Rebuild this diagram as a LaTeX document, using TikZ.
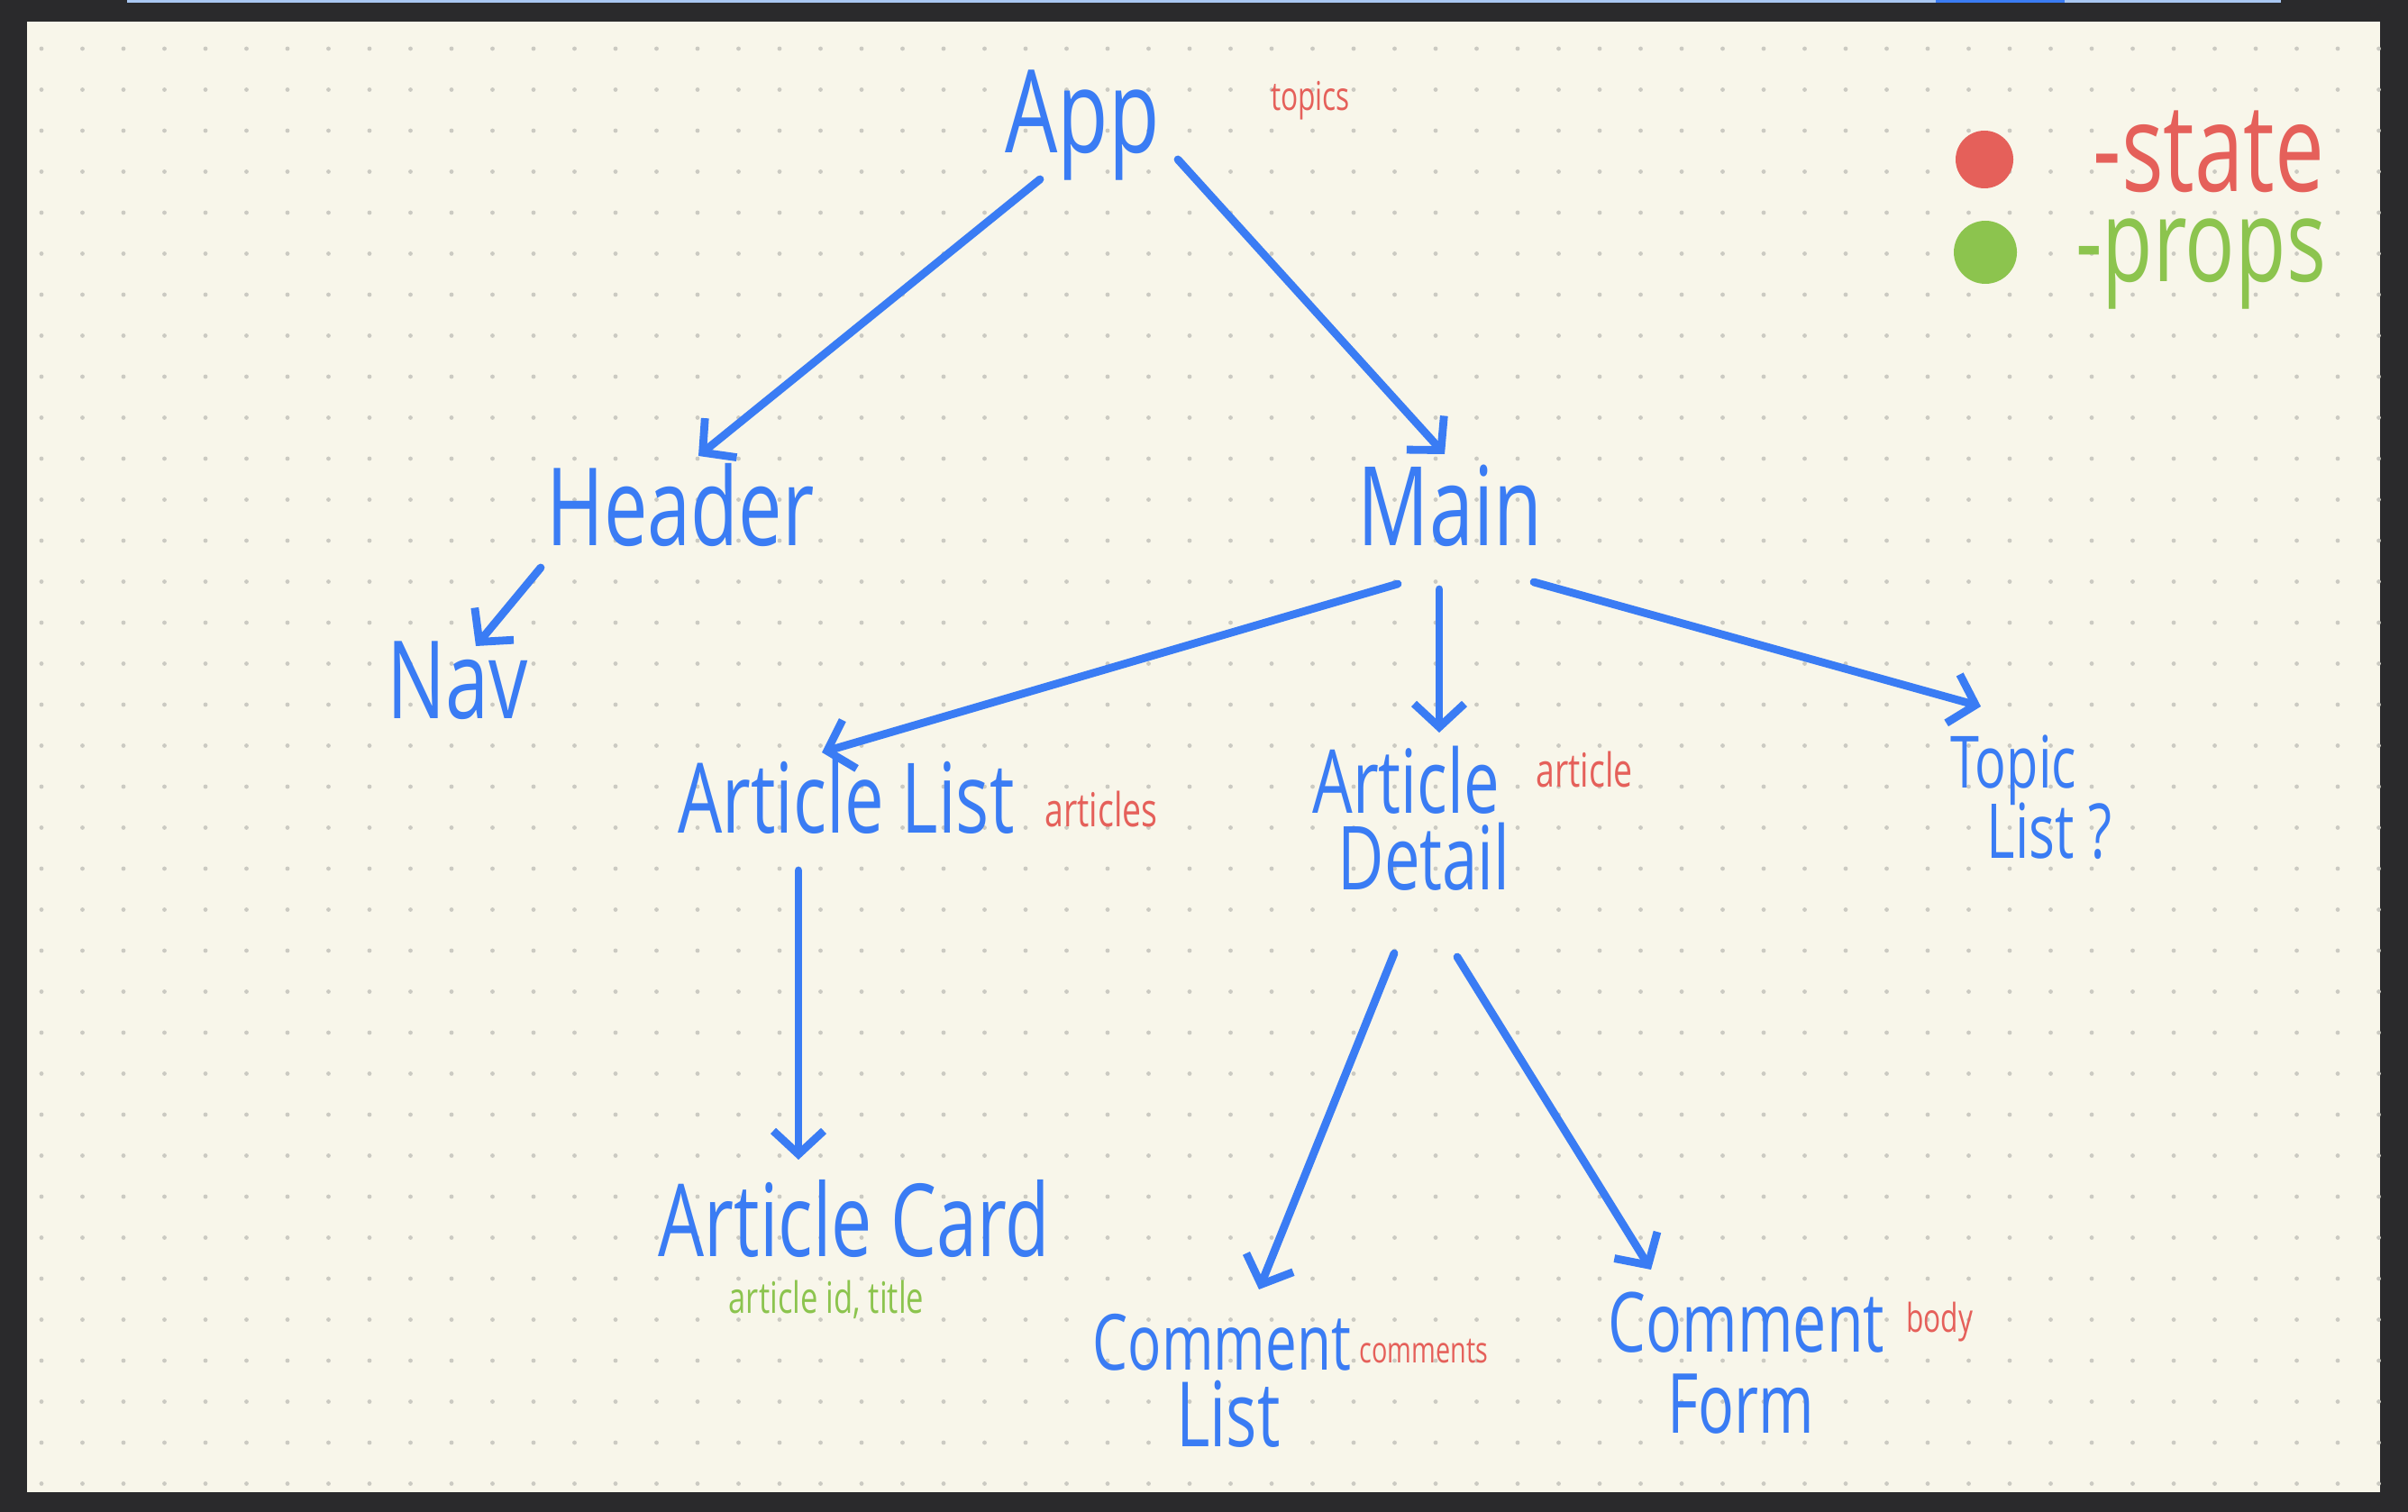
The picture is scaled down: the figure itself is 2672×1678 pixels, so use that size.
\documentclass[tikz,border=0pt]{standalone}
\usepackage{fontspec}
\setmainfont[FakeStretch=0.72]{Open Sans}
\usetikzlibrary{arrows.meta}
\definecolor{frame}{HTML}{2A2A2C}
\definecolor{paper}{HTML}{F8F6EA}
\definecolor{dotc}{HTML}{CBCAC2}
\definecolor{pen}{HTML}{3A7CF4}
\definecolor{statec}{HTML}{E5605A}
\definecolor{propc}{HTML}{8CC44E}
\definecolor{barc}{HTML}{A9C7F2}
\newcommand\hwsize[1]{\fontsize{#1}{#1}\selectfont}
\begin{document}
\begin{tikzpicture}[x=0.25pt,y=-0.25pt,
  comp/.style={text=pen, inner sep=0pt, anchor=base},
  statelbl/.style={text=statec, inner sep=0pt, anchor=base},
  proplbl/.style={text=propc, inner sep=0pt, anchor=base},
  nodepth/.style={text depth=0pt},
  capht/.style={text height=0.72em},
  arr/.style={draw=pen, line width=2.2pt, line cap=round, line join=round,
    -{Straight Barb[length=6.5pt,width=14pt,line width=2.2pt]}}]
\fill[frame] (0,0) rectangle (2672,1678);
\useasboundingbox (0,0) rectangle (2672,1678);
\fill[barc] (141,0) rectangle (2531,3);
\fill[pen] (2148,0) rectangle (2291,3);
\fill[paper] (30,24) rectangle (2641,1656);
\foreach \i in {0,...,57} {
  \foreach \j in {0,...,35} {
    \fill[dotc] ({46+45.5*\i},{54+45.5*\j}) circle[radius=2.4];
  }
}
% legend
\fill[statec] (2202,177) circle[radius=32];
\fill[propc] (2203,280) circle[radius=35];
\node[statelbl, nodepth, font=\hwsize{34}] (lstate) at (2451,213) {-state};
\node[proplbl, text height=0.56em, font=\hwsize{32}] (lprops) at (2442,313) {-props};
% components
\node[comp, font=\hwsize{32}] (app) at (1201,170) {App};
\node[statelbl, font=\hwsize{11}] (topics) at (1454,123) {topics};
\node[comp, font=\hwsize{30}] (header) at (755,605) {Header};
\node[comp, font=\hwsize{30.5}] (main) at (1609,605) {Main};
\node[comp, font=\hwsize{30}] (nav) at (508,797) {Nav};
\node[comp, font=\hwsize{27}] (alist) at (939,924) {Article List};
\node[statelbl, font=\hwsize{13}] (articles) at (1222,917) {articles};
\node[comp, nodepth, font=\hwsize{24.5}] (adetail) at (1560,902) {Article};
\node[comp, nodepth, capht, font=\hwsize{24.5}] (adetail2) at (1580,987) {Detail};
\node[statelbl, font=\hwsize{13}] (article) at (1758,873) {article};
\node[comp, font=\hwsize{20}] (topic) at (2234,874) {Topic};
\node[comp, capht, font=\hwsize{21}] (topic2) at (2274,952) {List ?};
\node[comp, font=\hwsize{28}] (acard) at (948,1394) {Article Card};
\node[proplbl, font=\hwsize{12}] (acprops) at (917,1457) {article id, title};
\node[comp, nodepth, font=\hwsize{21.5}] (clist) at (1356,1520) {Comment};
\node[comp, capht, font=\hwsize{25}] (clist2) at (1363,1605) {List};
\node[statelbl, font=\hwsize{10}] (comments) at (1580,1512) {comments};
\node[comp, nodepth, font=\hwsize{23}] (cform) at (1938,1500) {Comment};
\node[comp, capht, font=\hwsize{23}] (cform2) at (1932,1590) {Form};
\node[statelbl, font=\hwsize{11}] (body) at (2152,1478) {body};
% connectors
\draw[arr] ([shift={(-47,29)}]app.base) -- ([shift={(20,-99)}]header.base);
\draw[arr] ([shift={(106,7)}]app.base) -- ([shift={(-6,-101)}]main.base);
\draw[arr] ([shift={(-155,25)}]header.base) -- ([shift={(20,-80)}]nav.base);
\draw[arr] ([shift={(-58,43)}]main.base) -- ([shift={(-27,-89)}]alist.base);
\draw[arr] ([shift={(-12,49)}]main.base) -- ([shift={(37,-89)}]adetail.base);
\draw[arr] ([shift={(93,41)}]main.base) -- ([shift={(-36,-90)}]topic.base);
\draw[arr] ([shift={(-53,42)}]alist.base) -- ([shift={(-62,-107)}]acard.base);
\draw[arr] ([shift={(-33,71)}]adetail2.base) -- ([shift={(41,-89)}]clist.base);
\draw[arr] ([shift={(37,75)}]adetail2.base) -- ([shift={(-106,-91)}]cform.base);
\end{tikzpicture}
\end{document}
